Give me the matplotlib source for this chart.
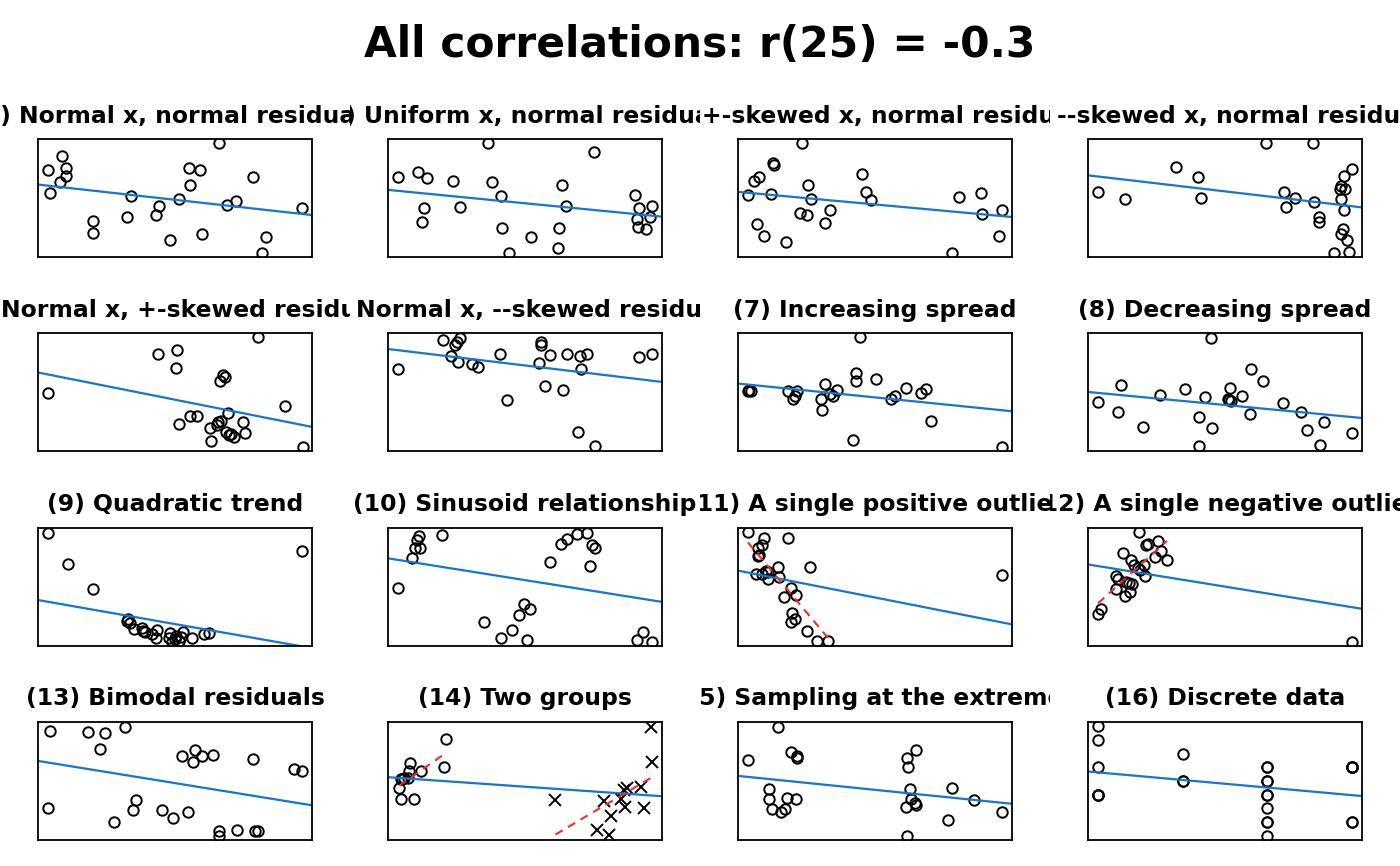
import numpy as np
import matplotlib
matplotlib.use("Agg")
import matplotlib.pyplot as plt
from matplotlib.transforms import Bbox, TransformedBbox

# values; panels 1-15 are in box-percent units (0-100)
titles = [
    "(1) Normal x, normal residuals",
    "(2) Uniform x, normal residuals",
    "(3) +-skewed x, normal residuals",
    "(4) --skewed x, normal residuals",
    "(5) Normal x, +-skewed residuals",
    "(6) Normal x, --skewed residuals",
    "(7) Increasing spread",
    "(8) Decreasing spread",
    "(9) Quadratic trend",
    "(10) Sinusoid relationship",
    "(11) A single positive outlier",
    "(12) A single negative outlier",
    "(13) Bimodal residuals",
    "(14) Two groups",
    "(15) Sampling at the extremes",
    "(16) Discrete data",
]
main_title = "All correlations: r(25) = -0.3"

x01 = [3.6, 4.2, 8.6, 10.1, 10.3, 8.0, 19.9, 19.9, 32.5, 33.9, 43.1, 44.2, 48.0,
       51.4, 55.2, 59.2, 55.3, 66.1, 59.7, 69.0, 72.1, 78.6, 83.2, 81.6, 96.4]
y01 = [73.4, 54.2, 85.6, 75.7, 68.9, 63.6, 30.2, 20.3, 34.2, 51.7, 35.6, 42.9, 14.7,
       49.2, 75.1, 73.4, 60.7, 96.3, 19.8, 44.1, 47.5, 67.8, 16.9, 3.4, 41.8]

x02 = [3.7, 11.1, 14.2, 13.0, 12.5, 23.8, 26.2, 36.6, 38.1, 41.2, 41.7, 44.0, 52.1,
       62.2, 62.5, 63.5, 65.1, 75.1, 90.2, 91.5, 96.4, 91.0, 91.2, 95.8, 94.0]
y02 = [67.5, 72.0, 66.7, 41.5, 29.4, 64.7, 42.7, 96.3, 63.3, 51.4, 24.6, 3.7, 17.2,
       7.3, 24.9, 60.7, 43.5, 88.7, 52.5, 41.5, 43.5, 31.9, 25.7, 33.6, 24.0]

x03 = [3.6, 5.9, 7.7, 12.7, 13.2, 12.1, 6.9, 9.5, 17.6, 23.3, 25.4, 26.8, 22.7,
       25.1, 33.4, 31.8, 45.3, 46.6, 48.4, 78.1, 80.8, 88.6, 89.1, 96.4, 95.1]
y03 = [52.5, 64.4, 67.8, 79.7, 78.0, 53.1, 28.2, 17.8, 12.7, 96.3, 61.3, 48.9, 37.0,
       35.3, 39.5, 29.1, 70.3, 55.1, 48.0, 3.7, 51.1, 54.2, 36.7, 39.5, 18.1]

x04 = [3.7, 13.5, 32.1, 40.2, 41.2, 64.8, 82.2, 71.5, 72.1, 75.6, 82.4, 84.4, 84.4,
       96.4, 93.6, 92.2, 93.8, 91.9, 92.2, 93.3, 93.2, 92.5, 94.6, 89.9, 95.1]
y04 = [55.1, 49.2, 76.0, 67.8, 50.3, 96.3, 96.3, 55.1, 42.4, 49.7, 46.6, 34.2, 29.9,
       74.3, 68.9, 60.5, 57.6, 57.6, 49.2, 40.1, 24.0, 19.5, 14.4, 3.7, 4.2]

x05 = [3.6, 43.9, 50.6, 50.2, 80.3, 67.5, 68.2, 66.6, 51.5, 55.5, 57.9, 69.3, 66.7,
       65.4, 62.8, 68.7, 70.5, 71.6, 74.7, 75.7, 63.3, 90.2, 96.6, 65.7, 69.8]
y05 = [49.2, 82.2, 85.9, 70.1, 96.3, 64.7, 62.7, 59.6, 22.6, 29.7, 29.7, 31.9, 25.4,
       22.0, 19.8, 16.4, 14.4, 12.1, 24.6, 15.3, 8.2, 38.4, 3.4, 24.3, 13.6]

x06 = [3.7, 19.9, 24.4, 25.2, 26.2, 23.1, 25.7, 30.5, 32.9, 41.0, 43.6, 55.9, 55.9,
       59.0, 55.0, 65.5, 70.2, 72.8, 70.4, 57.3, 63.7, 69.5, 75.4, 91.7, 96.4]
y06 = [69.2, 94.1, 89.8, 92.7, 96.0, 80.5, 75.4, 73.4, 70.9, 82.2, 43.5, 92.7, 89.8,
       81.6, 74.9, 82.2, 80.8, 82.2, 69.8, 55.1, 52.0, 16.4, 4.0, 79.4, 82.2]

x07 = [3.6, 4.6, 4.1, 18.4, 21.5, 19.9, 20.7, 31.8, 30.2, 30.7, 33.4, 34.7, 36.2,
       44.4, 42.9, 43.2, 50.4, 42.1, 55.9, 57.4, 61.2, 66.7, 68.5, 70.6, 96.4]
y07 = [50.6, 51.1, 52.0, 51.1, 51.1, 44.4, 46.9, 56.8, 44.4, 35.0, 48.3, 46.3, 51.4,
       96.3, 66.1, 59.6, 61.3, 9.0, 44.1, 46.3, 53.4, 49.2, 52.8, 25.7, 3.4]

x08 = [3.7, 12.2, 11.1, 20.2, 26.1, 35.5, 42.8, 40.4, 44.8, 45.4, 40.4, 51.9, 51.1,
       52.3, 56.2, 59.6, 63.8, 59.0, 71.2, 77.9, 80.1, 86.3, 84.5, 96.4, 51.5]
y08 = [41.2, 56.2, 32.8, 20.1, 47.7, 52.5, 45.8, 29.1, 96.0, 19.2, 4.0, 53.4, 44.4,
       42.7, 46.9, 69.8, 59.0, 31.1, 40.7, 32.8, 17.8, 24.3, 5.4, 15.3, 43.5]

x09 = [3.6, 10.8, 20.2, 96.4, 33.0, 32.6, 33.4, 35.1, 38.0, 38.3, 39.0, 43.5, 42.9,
       48.1, 47.8, 48.9, 50.4, 51.4, 52.2, 53.0, 56.3, 60.5, 62.5, 41.6, 50.1]
y09 = [96.0, 69.2, 48.0, 80.2, 22.9, 21.2, 19.2, 14.4, 15.0, 12.7, 12.1, 13.3, 6.5,
       11.3, 6.5, 3.7, 8.8, 4.2, 7.9, 12.1, 6.8, 10.2, 11.3, 10.5, 5.9]

x10 = [3.7, 8.6, 9.8, 11.7, 10.6, 11.2, 19.7, 35.0, 41.4, 45.3, 47.9, 49.8, 52.0,
       50.7, 59.0, 63.0, 65.3, 68.9, 72.8, 74.4, 75.4, 73.6, 90.9, 93.2, 96.4]
y10 = [49.4, 74.9, 83.3, 83.3, 90.1, 93.2, 93.8, 20.1, 6.8, 13.3, 26.0, 35.9, 31.6,
       4.8, 71.5, 86.2, 90.7, 95.2, 96.0, 85.6, 82.8, 68.1, 4.8, 12.1, 3.7]

# last point of panels 11 and 12 is the outlier
x11 = [3.6, 9.6, 18.4, 8.6, 7.3, 7.8, 7.3, 26.1, 14.5, 6.4, 8.6, 10.1, 11.1,
       10.9, 14.9, 19.4, 21.2, 16.8, 19.6, 20.9, 19.2, 25.0, 29.0, 32.8, 96.4]
y11 = [96.3, 91.8, 91.2, 85.3, 83.3, 77.1, 76.3, 66.9, 66.9, 61.3, 60.7, 63.6, 62.4,
       56.5, 58.2, 49.4, 43.2, 41.2, 28.2, 22.9, 20.1, 13.0, 4.5, 4.5, 60.5]

x12 = [3.7, 4.9, 12.7, 18.6, 21.2, 22.0, 25.7, 26.5, 24.4, 28.8, 15.8, 16.9, 20.4,
       19.1, 20.8, 10.4, 10.9, 13.7, 16.1, 15.5, 10.4, 13.4, 15.0, 18.2, 96.4]
y12 = [27.4, 31.4, 79.1, 96.3, 85.6, 86.7, 89.0, 80.5, 75.1, 72.6, 72.6, 68.6, 68.6,
       64.4, 59.3, 59.3, 56.5, 54.5, 52.3, 46.0, 48.3, 42.4, 53.1, 65.8, 3.7]

x13 = [4.4, 18.1, 24.6, 31.8, 22.5, 3.6, 27.6, 34.6, 35.9, 45.2, 49.3, 54.6, 52.4,
       56.4, 57.4, 59.9, 63.8, 78.5, 66.1, 66.1, 72.8, 79.1, 80.3, 93.3, 96.4]
y13 = [92.4, 91.8, 90.9, 96.0, 76.8, 26.8, 15.3, 25.4, 33.6, 25.4, 18.9, 23.7, 70.9,
       66.4, 76.3, 70.9, 72.0, 68.6, 7.9, 3.7, 8.2, 7.6, 7.6, 60.0, 58.8]

# panel 14: group a (circles) and group b (crosses)
x14a = [21.0, 20.4, 12.2, 8.1, 7.8, 4.7, 6.0, 7.2, 4.1, 4.6, 9.6, 5.2]
y14a = [85.3, 61.9, 58.8, 65.0, 58.8, 52.0, 52.5, 52.8, 43.8, 34.5, 35.0, 52.0]
x14b = [96.1, 96.4, 92.3, 87.1, 86.3, 85.0, 86.6, 93.5, 78.8, 61.1, 81.4, 76.2, 80.5]
y14b = [96.0, 66.4, 44.6, 43.8, 42.4, 35.0, 28.0, 26.8, 32.8, 33.9, 20.3, 8.5, 4.2]

x15 = [3.6, 14.7, 19.2, 21.4, 21.5, 11.4, 11.3, 12.4, 15.8, 17.1, 17.8, 21.2, 61.7,
       65.1, 62.2, 62.8, 63.1, 64.6, 64.9, 61.3, 78.1, 86.0, 76.8, 96.4, 61.7]
y15 = [67.5, 96.0, 74.9, 71.2, 69.2, 42.9, 35.0, 26.0, 24.0, 26.3, 35.9, 34.5, 69.8,
       76.3, 62.1, 42.9, 34.7, 31.6, 29.7, 28.0, 43.8, 33.9, 16.7, 23.4, 3.7]

# panel 16 in its own integer units
x16 = [1, 1, 1, 1, 1, 1, 2, 2, 2, 3, 3, 3, 3, 3, 3, 3, 3, 3, 3, 4, 4, 4, 4, 4, 4]
y16 = [8, 7, 5, 3, 3, 3, 6, 4, 4, 5, 5, 4, 4, 3, 3, 2, 1, 1, 0, 5, 5, 5, 5, 1, 1]

panels = [(x01, y01), (x02, y02), (x03, y03), (x04, y04),
          (x05, y05), (x06, y06), (x07, y07), (x08, y08),
          (x09, y09), (x10, y10), (x11, y11), (x12, y12),
          (x13, y13), (None, None), (x15, y15), (x16, y16)]

BLUE = "#1874CD"
RED = "#EE2C2C"
W, H = 1400, 866
col_left = [38, 388, 738, 1088]
row_top = [139, 333, 528, 722]
box_w, box_h = 274, 118

fig = plt.figure(figsize=(W / 100, H / 100), dpi=100)
fig.text(0.5, 1 - 45 / H, main_title, ha="center", va="center",
         fontsize=30.5, fontweight="bold", family="DejaVu Sans")

pt_kw = dict(marker="o", ms=7.5, mfc="none", mec="black", mew=1.4, ls="none")


def fit_line(ax, xs, ys, **kw):
    m, b = np.polyfit(xs, ys, 1)
    ax.axline((0, b), slope=m, **kw)


def fit_segment(ax, xs, ys):
    xs = np.asarray(xs, float)
    m, b = np.polyfit(xs, ys, 1)
    xr = np.array([xs.min(), xs.max()])
    ax.plot(xr, m * xr + b, color=RED, lw=1.5, ls=(0, (4, 3)), zorder=3)


for i in range(16):
    r, c = divmod(i, 4)
    ax = fig.add_axes([col_left[c] / W, 1 - (row_top[r] + box_h) / H, box_w / W, box_h / H])
    ax.set_xticks([])
    ax.set_yticks([])
    for s in ax.spines.values():
        s.set_linewidth(1.3)

    if i == 13:
        ax.plot(x14a, y14a, **pt_kw)
        ax.plot(x14b, y14b, marker="x", ms=8, mec="black", mew=1.4, ls="none")
        fit_line(ax, x14a + x14b, y14a + y14b, color=BLUE, lw=1.6)
        fit_segment(ax, x14a, y14a)
        fit_segment(ax, x14b, y14b)
        ax.set_xlim(0, 100)
        ax.set_ylim(0, 100)
    else:
        xs, ys = panels[i]
        ax.plot(xs, ys, **pt_kw)
        fit_line(ax, xs, ys, color=BLUE, lw=1.6)
        if i in (10, 11):
            fit_segment(ax, xs[:-1], ys[:-1])
        if i == 15:
            ax.set_xlim(1 - 0.04 * 3, 4 + 0.04 * 3)
            ax.set_ylim(0 - 0.04 * 8, 8 + 0.04 * 8)
        else:
            ax.set_xlim(0, 100)
            ax.set_ylim(0, 100)

    # panel title, clipped to its column like the original
    clip = TransformedBbox(Bbox([[c / 4, 0], [(c + 1) / 4, 1]]), fig.transFigure)
    t = fig.text((col_left[c] + box_w / 2) / W, 1 - (row_top[r] - 23) / H, titles[i],
                 ha="center", va="center", fontsize=16.9, fontweight="bold",
                 family="DejaVu Sans")
    t.set_clip_box(clip)
    t.set_clip_on(True)

fig.savefig("out.png", dpi=100)
